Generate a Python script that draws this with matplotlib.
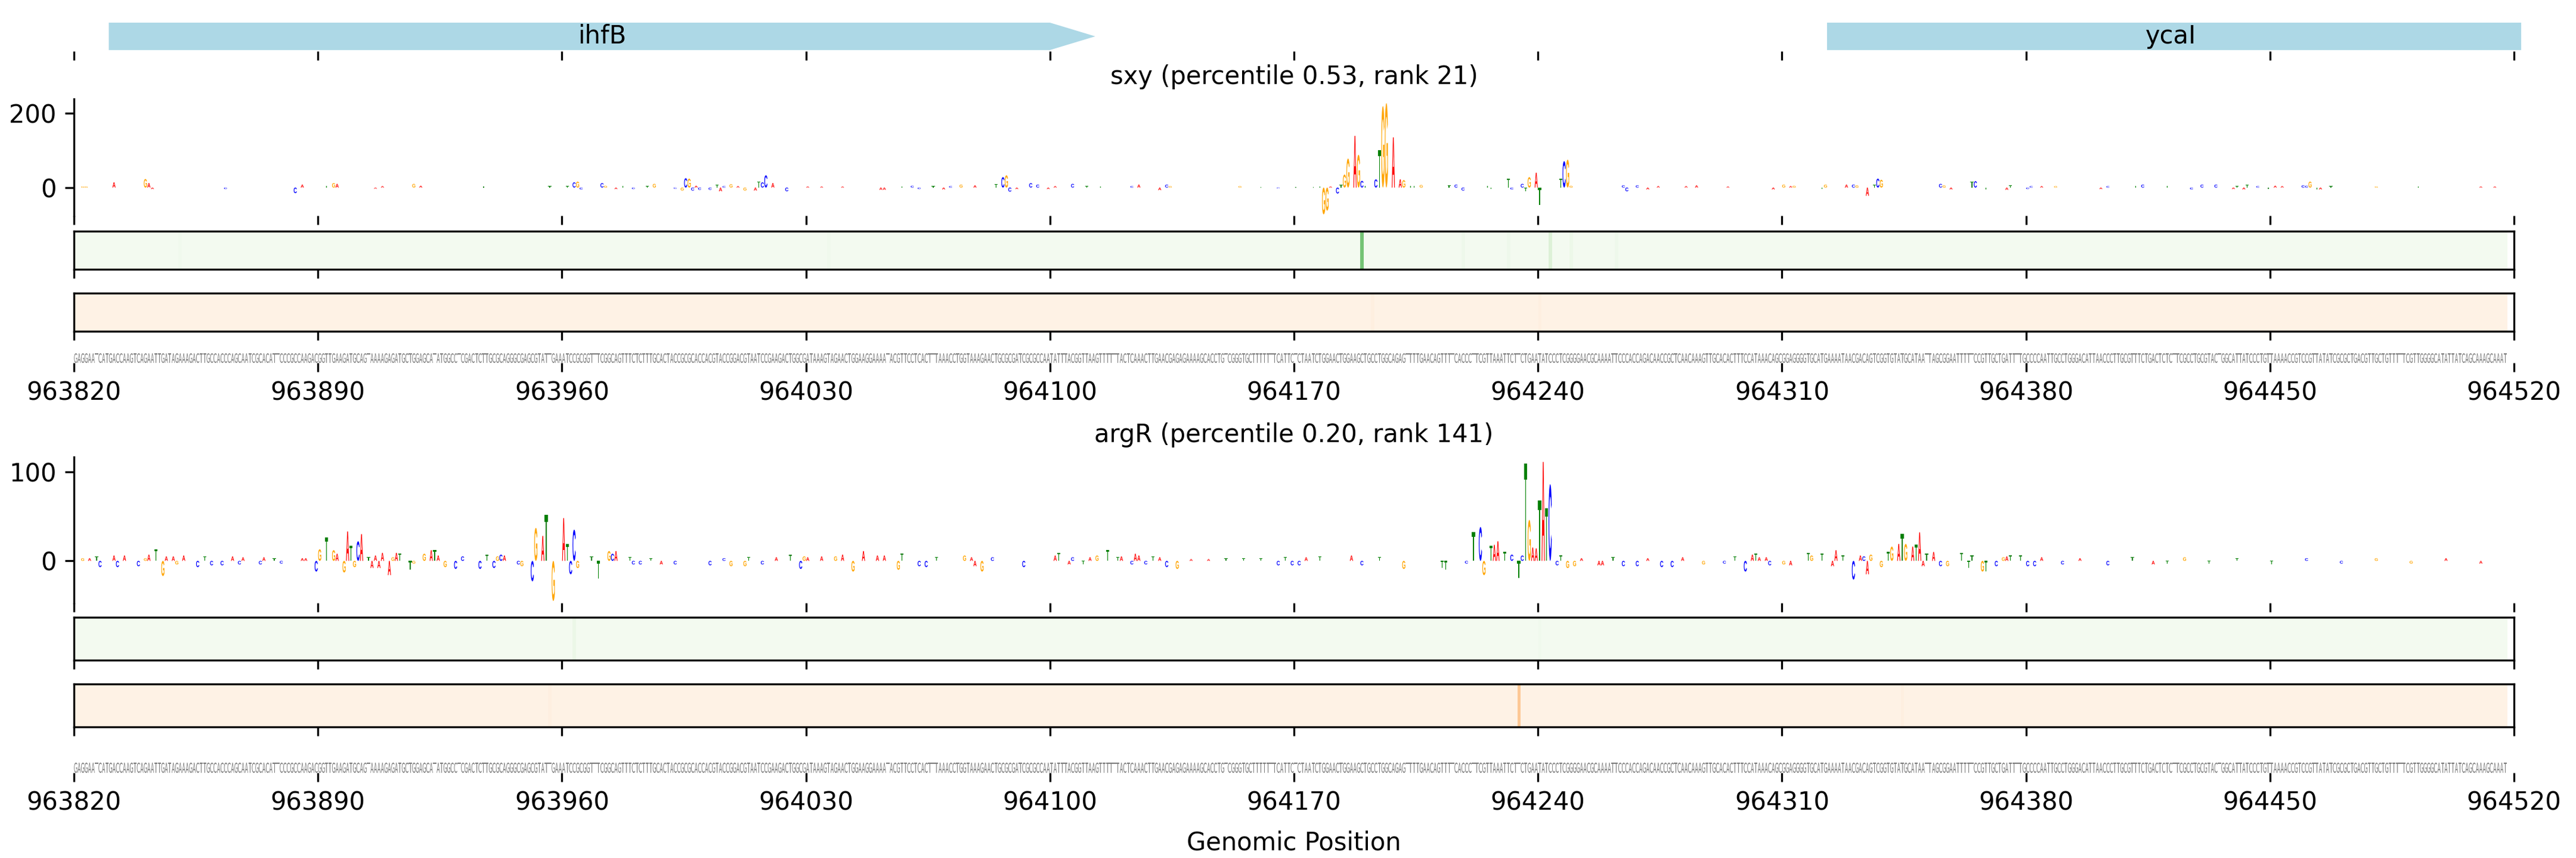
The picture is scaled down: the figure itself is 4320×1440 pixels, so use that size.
import numpy as np
import matplotlib
matplotlib.use('Agg')
import matplotlib.pyplot as plt
from matplotlib.textpath import TextPath
from matplotlib.patches import PathPatch, Polygon, Rectangle
from matplotlib.font_manager import FontProperties
from matplotlib.transforms import Affine2D

# ============================================================
# REGION / SEQUENCE
# ============================================================
start = 963820
end = 964520
tick_step = 70

seq_up = 'GAGGAATC'
seq_ihfB = ('ATGACCAAGTCAGAATTGATAGAAAGACTTGCCACCCAGCAATCGCACATTCCCGCCAAG'
            'ACGGTTGAAGATGCAGTAAAAGAGATGCTGGAGCATATGGCCTCGACTCTTGCGCAGGGC'
            'GAGCGTATTGAAATCCGCGGTTTCGGCAGTTTCTCTTTGCACTACCGCGCACCACGTACC'
            'GGACGTAATCCGAAGACTGGCGATAAAGTAGAACTGGAAGGAAAATACGTTCCTCACTTT'
            'AAACCTGGTAAAGAACTGCGCGATCGCGCCAATATTTACGGTTAA')
seq_mid = ('GTTTTTTACTCAAACTTGAACGAGAGAAAAGCACCTGTCGGGTGCTTTTTTTCATT'
           'CTCTAATCTGGAACTGGAAGCTGCCTGGCAGAGTTTTGAACAGTTTTCACCCTTCGTTAAAT'
           'TCTTCTGAATATCCCTCGGGGAACGCAAAATTCCCACCAGACAACCGCTCAACAAAGTTGCA'
           'CACTTTCCATAAACAGCGGAGGGGTGCATGAAAATAACGACAGTCGGTG')
seq_ycaI = ('TATGCATAATTAGCGGAATTTTTCCGTTGCTGATTTTGCCCCAATTGCCTGGGACATTAACC'
            'CTTGCGTTTCTGACTCTCTTCGCCTGCGTACTGGCATTATCCCTGTTAAAACCGTCCGTTAT'
            'ATCGCGCTGACGTTGCTGTTTTTCGTTGGGGCATATTATCAGCAAAGCAAAT')
sequence = seq_up + seq_ihfB + seq_mid + seq_ycaI

# genes: name, start, end, has arrow head
gene_names = ['ihfB', 'ycaI']
gene_starts = [963830, 964323]
gene_ends = [964113, 964522]
gene_arrow = [True, False]

# ============================================================
# ATTRIBUTIONS (offset from start, value)
# ============================================================
sxy_title = 'sxy (percentile 0.53, rank 21)'
sxy_pos = [2, 3, 11, 20, 21, 22, 43, 63, 65, 72, 74, 75, 86, 88, 97, 99, 117, 136,
           141, 143, 144, 145, 151, 152, 155, 157, 160, 164, 166, 172, 174, 175,
           176, 177, 178, 179, 182, 184, 185, 186, 188, 190, 192, 195, 196, 197,
           198, 200, 204, 210, 214, 220, 231, 232, 237, 240, 242, 246, 249, 251,
           254, 258, 264, 266, 267, 268, 270, 274, 276, 279, 281, 286, 290, 294,
           303, 305, 311, 313, 314, 334, 340, 345, 350, 355, 357, 358, 359, 360,
           362, 363, 364, 365, 367, 368, 369, 370, 373, 374, 375, 376, 378, 380,
           381, 383, 384, 386, 394, 396, 398, 405, 406, 411, 412, 415, 416, 417,
           419, 420, 426, 427, 428, 429, 444, 445, 448, 451, 454, 462, 465, 474,
           487, 490, 492, 493, 501, 502, 508, 510, 511, 514, 516, 517, 518, 535,
           536, 538, 544, 545, 548, 554, 555, 560, 561, 564, 568, 581, 583, 591,
           593, 600, 607, 610, 614, 619, 620, 622, 623, 626, 629, 631, 633, 639,
           640, 641, 643, 644, 647, 660, 672, 690, 694]
sxy_val = [3, 3, 14, 23, 12, -4, -4, -15, 8, 5, 12, 10, -3, 4, 10, 5, 3, 4,
           4, 14, 16, -5, 12, 5, -4, 5, -4, 4, 10, -3, -8, 25,
           24, -8, 5, -6, -6, 8, -10, 4, 9, 4, -8, -8, 16, 14,
           33, 12, -10, 3, 3, 3, -6, -6, 3, 5, -4, 4, -5, 4,
           8, 6, 10, 28, 33, -11, -4, 12, 8, -4, 4, 10, 4, 3,
           4, 8, -7, 8, 4, 4, 2, -2, 2, 2, 3, -72, -62, 3,
           -16, 8, 35, 78, 139, 88, 18, 5, 22, 101, 219, 227, 135, 22,
           20, 5, 5, 7, 6, 8, -8, 5, -4, 24, -5, 10, -10, 28,
           40, -46, 24, 71, 75, 5, 6, -10, 6, -5, 4, 4, 6, 3,
           -5, 8, 4, 5, -4, 8, 8, 8, 6, -22, 8, 24, 21, 10,
           6, -5, 16, 17, -5, -6, 6, -4, 4, 4, 4, -4, 4, 5,
           8, 5, -5, 8, 8, -4, 4, -5, 8, 4, -3, 5, 4, 6,
           5, 16, -5, -5, 4, 3, 3, 3, 3]
sxy_yticks = [0, 200]

argR_title = 'argR (percentile 0.20, rank 141)'
argR_pos = [2, 4, 6, 7, 11, 12, 14, 18, 20, 21, 23, 25, 26, 28, 29, 31, 35, 37,
            39, 42, 45, 47, 48, 53, 54, 57, 59, 65, 66, 69, 70, 72, 74, 75, 77,
            78, 79, 80, 81, 82, 84, 85, 86, 87, 88, 90, 91, 92, 93, 96, 97, 100,
            102, 103, 104, 106, 109, 111, 116, 118, 120, 121, 122, 123, 127, 128,
            131, 132, 134, 135, 137, 140, 141, 142, 143, 144, 148, 150, 153, 154,
            155, 159, 160, 162, 165, 168, 172, 182, 186, 188, 192, 193, 197, 201,
            205, 208, 209, 210, 214, 218, 220, 223, 226, 230, 232, 236, 237, 242,
            244, 247, 255, 257, 258, 260, 263, 272, 281, 282, 285, 286, 289, 291,
            293, 296, 299, 300, 303, 304, 305, 307, 309, 311, 313, 316, 320, 325,
            330, 335, 340, 345, 347, 349, 351, 353, 357, 366, 369, 374, 381, 392,
            393, 399, 401, 403, 404, 406, 407, 408, 410, 412, 414, 415, 416, 417,
            418, 419, 420, 421, 422, 423, 425, 426, 428, 430, 432, 437, 438, 441,
            444, 448, 451, 455, 458, 461, 467, 473, 476, 479, 481, 482, 483, 485,
            486, 490, 492, 497, 498, 501, 504, 505, 507, 510, 512, 513, 514, 515,
            518, 520, 521, 523, 524, 525, 527, 528, 529, 530, 531, 533, 535, 537,
            541, 543, 544, 547, 548, 551, 553, 554, 555, 558, 560, 562, 564, 570,
            575, 583, 590, 596, 600, 605, 612, 620, 630, 640, 650, 660, 670, 680,
            690]
argR_val = [3, 3, 5, -7, 6, -7, 6, -6, 3, 7, 13, -17, 5, 5, -4, 6, -7, 5,
            -5, -5, 5, -4, 4, -4, 4, 3, -3, 3, 3, -12, 13, 26, 12, 8, -13,
            33, 17, -7, 22, 30, 4, -8, 6, -8, 9, -16, 4, 9, 8, -10, -3, 8,
            12, 12, 6, -7, -9, 5, -9, 7, -8, 5, 7, 6, -4, -6,
            -23, 37, 28, 52, -45, 48, 19, -15, 35, -8, 5, -20, 11, 8,
            11, 4, -4, -4, 3, -4, -4, -5, 3, -6, -6, 4, -4, 4,
            7, -9, 5, 4, 5, 5, 7, -12, 11, 6, 6, -10, 8, -6,
            -7, 4, 6, 4, -6, -12, 4, -7, 6, 9, -4, 4, -4, 4,
            6, 12, 4, 5, -4, 8, 6, -4, 5, 4, -7, -9, 2, 2,
            3, 3, 3, -5, 4, -5, -5, 4, 5, 6, -5, 4, -9, -8,
            -10, -3, 32, 38, -16, 17, 18, 22, 10, 7, -19, 6, 109, 46,
            15, 14, 68, 111, 59, 86, -5, 6, -8, -6, 3, -5, -5, 4,
            -6, -6, 3, -7, -7, 4, -4, -3, 5, -12, 7, 8, 4, 4,
            -5, -4, -5, 9, 6, 8, -6, 12, 6, -21, 6, 5, -15, 7,
            -7, 10, 16, 19, 30, 19, 16, 18, 32, -6, 8, 10, -6, -6,
            9, -8, 6, -12, -12, -6, 4, 5, 6, 6, -6, -6, 4, -4,
            3, -5, 4, -4, -3, 4, -3, 3, -4, 3, -3, 3, -3, 3,
            -3]
argR_yticks = [0, 100]

# heat strips: base level and highlighted cells
sxy_green_base = 0.03
sxy_green_pos = [30, 216, 369, 398, 411, 423, 429, 442]
sxy_green_val = [0.05, 0.05, 0.5, 0.06, 0.06, 0.16, 0.07, 0.06]
sxy_orange_base = 0.025
sxy_orange_pos = [372, 420]
sxy_orange_val = [0.05, 0.045]
argR_green_base = 0.03
argR_green_pos = [143, 420]
argR_green_val = [0.08, 0.05]
argR_orange_base = 0.025
argR_orange_pos = [136, 414, 524]
argR_orange_val = [0.05, 0.28, 0.05]

# ============================================================
# DRAWING HELPERS
# ============================================================
base_colors = {'A': 'red', 'C': 'blue', 'G': 'orange', 'T': 'green'}
fp_logo = FontProperties(family='Liberation Sans', weight='bold')
fp_seq = FontProperties(family='DejaVu Sans', weight='normal')
_glyphs = {}


def glyph(ch, fp):
    key = (ch, id(fp))
    if key not in _glyphs:
        _glyphs[key] = TextPath((0, 0), ch, size=1, prop=fp)
    return _glyphs[key]


def draw_letter(ax, ch, x0, y0, y1, color, fp, width):
    path = glyph(ch, fp)
    ext = path.get_extents()
    tr = (Affine2D().translate(-ext.x0, -ext.y0)
          .scale(width / ext.width, (y1 - y0) / ext.height)
          .translate(x0 + (1 - width) / 2, y0))
    ax.add_patch(PathPatch(tr.transform_path(path), fc=color, ec='none', lw=0))


def dense(pos, val, base=0.0):
    arr = np.full(len(sequence), base)
    arr[np.array(pos)] = val
    return arr


W_IN, H_IN, DPI = 14.4, 4.8, 300
W_PX, H_PX = W_IN * DPI, H_IN * DPI
LEFT, RIGHT = 124, 4216


def add_ax(fig, top, bottom):
    return fig.add_axes([LEFT / W_PX, 1 - bottom / H_PX,
                         (RIGHT - LEFT) / W_PX, (bottom - top) / H_PX])


xticks = np.arange(start, end + 1, tick_step)

fig = plt.figure(figsize=(W_IN, H_IN), dpi=DPI)

# ------------------------------------------------------------
# gene track
# ------------------------------------------------------------
ax_gene = add_ax(fig, 36, 86)
for name, gs, ge, arrow in zip(gene_names, gene_starts, gene_ends, gene_arrow):
    if arrow:
        head = 13
        poly = Polygon([(gs, 0.04), (ge - head, 0.04), (ge, 0.5),
                        (ge - head, 0.96), (gs, 0.96)],
                       closed=True, fc='lightblue', ec='none')
        ax_gene.add_patch(poly)
        xc = (gs + ge) / 2
    else:
        ax_gene.add_patch(Rectangle((gs, 0.04), ge - gs, 0.92,
                                    fc='lightblue', ec='none', clip_on=False))
        xc = (gs + end) / 2
    ax_gene.text(xc, 0.5, name, ha='center', va='center', fontsize=10)
ax_gene.set_xlim(start, end)
ax_gene.set_ylim(0, 1)
for s in ax_gene.spines.values():
    s.set_visible(False)
ax_gene.set_yticks([])
ax_gene.set_xticks(xticks)
ax_gene.tick_params(axis='x', labelbottom=False)

# ------------------------------------------------------------
# one block per TF
# ------------------------------------------------------------
blocks = [
    dict(title=sxy_title, pos=sxy_pos, val=sxy_val, yt=sxy_yticks,
         logo=(166, 362), green=(388, 452), orange=(492, 556), seq=(593, 609),
         g=(sxy_green_base, sxy_green_pos, sxy_green_val),
         o=(sxy_orange_base, sxy_orange_pos, sxy_orange_val)),
    dict(title=argR_title, pos=argR_pos, val=argR_val, yt=argR_yticks,
         logo=(767, 1012), green=(1036, 1108), orange=(1148, 1220), seq=(1280, 1297),
         g=(argR_green_base, argR_green_pos, argR_green_val),
         o=(argR_orange_base, argR_orange_pos, argR_orange_val)),
]

for b in blocks:
    # logo
    ax = add_ax(fig, *b['logo'])
    attr = dense(b['pos'], b['val'])
    for i, h in enumerate(attr):
        if h == 0:
            continue
        ch = sequence[i]
        y0, y1 = (0, h) if h > 0 else (h, 0)
        draw_letter(ax, ch, start + i, y0, y1, base_colors[ch], fp_logo, 0.9)
    ax.set_xlim(start, end)
    ax.set_ylim(attr.min() * 1.05, attr.max() * 1.05)
    ax.set_yticks(b['yt'])
    ax.set_xticks(xticks)
    ax.tick_params(axis='x', labelbottom=False)
    for s in ['top', 'right', 'bottom']:
        ax.spines[s].set_visible(False)
    ax.set_title(b['title'], fontsize=10)

    # heat strips
    for key, cmap in [('green', 'Greens'), ('orange', 'Oranges')]:
        base, hp, hv = b['g'] if key == 'green' else b['o']
        axh = add_ax(fig, *b[key])
        row = dense(hp, hv, base)
        axh.imshow(row[None, :], aspect='auto', cmap=cmap, vmin=0, vmax=1,
                   interpolation='nearest',
                   extent=(start, start + len(row), 0, 1))
        axh.set_xlim(start, end)
        axh.set_ylim(0, 1)
        axh.set_yticks([])
        axh.set_xticks(xticks)
        axh.tick_params(axis='x', labelbottom=False)

    # sequence row
    axs = add_ax(fig, *b['seq'])
    for i, ch in enumerate(sequence):
        draw_letter(axs, ch, start + i, 0, 1, '#7a7a7a', fp_seq, 0.9)
    axs.set_xlim(start, end)
    axs.set_ylim(0, 1)
    axs.set_yticks([])
    axs.set_xticks(xticks)
    axs.set_xticklabels([str(t) for t in xticks], fontsize=10)
    for s in axs.spines.values():
        s.set_visible(False)

axs.set_xlabel('Genomic Position', fontsize=10, labelpad=6)

fig.savefig('out.png', dpi=DPI)
